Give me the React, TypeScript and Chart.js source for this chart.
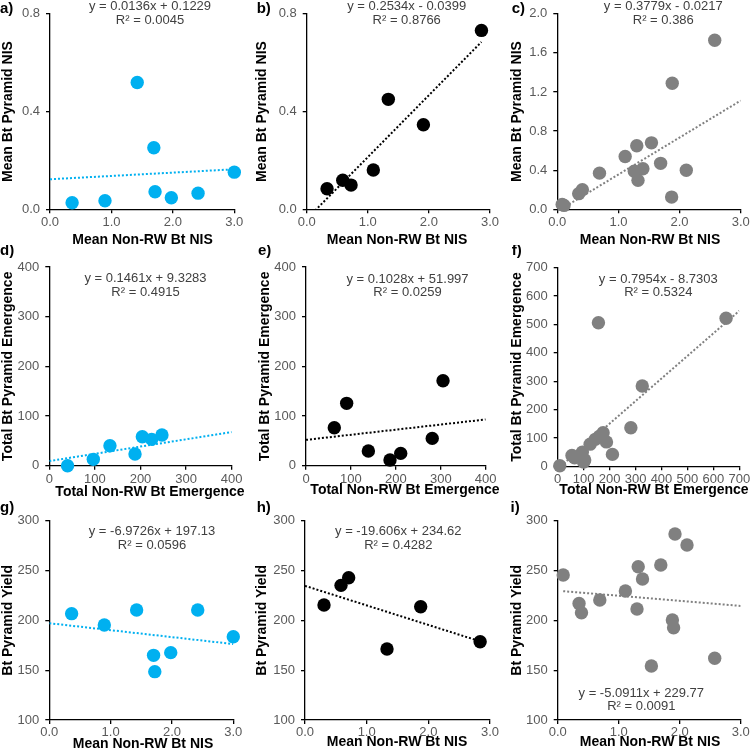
import React, { useEffect, useRef } from "react";
import { Chart, registerables } from "chart.js";

Chart.register(...registerables);

const FONT = "'Liberation Sans', Arial, Helvetica, sans-serif";

// ---------------- Data ----------------
// a) Mean Bt Pyramid NIS vs Mean Non-RW Bt NIS (blue)
const aX = [0.36, 0.895, 1.42, 1.69, 1.71, 1.975, 2.41, 3.0];
const aY = [0.027, 0.035, 0.519, 0.252, 0.072, 0.047, 0.066, 0.152];
// b) black
const bX = [0.333, 0.59, 0.726, 1.09, 1.336, 1.91, 2.86];
const bY = [0.084, 0.119, 0.099, 0.161, 0.45, 0.346, 0.732];
// c) gray
const cX = [0.08, 0.11, 0.35, 0.41, 0.69, 1.11, 1.3, 1.54, 1.26, 1.4, 1.32, 1.69, 1.87, 2.11, 1.88, 2.575];
const cY = [0.05, 0.04, 0.16, 0.2, 0.37, 0.54, 0.65, 0.68, 0.39, 0.415, 0.296, 0.47, 0.125, 0.4, 1.29, 1.73];
// d) Total Bt Pyramid Emergence vs Total Non-RW Bt Emergence (blue)
const dX = [40, 96.5, 133, 188, 204, 224.5, 247];
const dY = [0, 12.8, 40.3, 23.5, 58.4, 53, 61.7];
// e) black
const eX = [63, 90.5, 138.8, 187, 210.8, 281, 305];
const eY = [76.5, 125.5, 29.5, 11.4, 24.8, 55, 171];
// f) gray
const fX = [8, 55, 65, 95, 100, 104, 125, 145, 160, 175, 188, 211, 282, 326, 157, 649];
const fY = [2, 38, 30, 50, 15, 22, 78, 95, 105, 118, 86, 42, 136, 283, 506, 522];
// g) Bt Pyramid Yield vs Mean Non-RW Bt NIS (blue)
const gX = [0.364, 0.897, 1.424, 1.7, 1.72, 1.98, 2.42, 3.0];
const gY = [206.7, 195.3, 210.4, 164.9, 148.5, 167.6, 210.4, 183.6];
// h) black
const hX = [0.308, 0.584, 0.708, 1.33, 1.876, 2.84];
const hY = [215.4, 235.1, 242.8, 171.2, 213.7, 178.6];
// i) gray
const iX = [0.09, 0.35, 0.39, 0.69, 1.11, 1.32, 1.39, 1.3, 1.69, 1.923, 2.12, 1.88, 1.9, 1.536, 2.574];
const iY = [245.5, 217, 207.7, 220.4, 229.5, 253.8, 241.5, 211.4, 255.5, 286.6, 275.6, 200.3, 192.6, 154.2, 161.9];

// Trendlines (slope, intercept) and drawn x-range
const trendSlope = [0.0136, 0.2534, 0.3779, 0.1461, 0.1028, 0.7954, -6.9726, -19.606, -5.0911];
const trendIntercept = [0.1229, -0.0399, -0.0217, 9.3283, 51.997, -8.7303, 197.13, 234.62, 229.77];
const trendFrom = [0, 0, 0.08, 0, 0, 0, 0, 0, 0.09];
const trendTo = [3, 2.86, 3, 400, 400, 700, 3, 2.84, 3];

// Equation labels
const eqLine1 = [
  "y = 0.0136x + 0.1229",
  "y = 0.2534x - 0.0399",
  "y = 0.3779x - 0.0217",
  "y = 0.1461x + 9.3283",
  "y = 0.1028x + 51.997",
  "y = 0.7954x - 8.7303",
  "y = -6.9726x + 197.13",
  "y = -19.606x + 234.62",
  "y = -5.0911x + 229.77",
];
const eqLine2 = ["R² = 0.0045", "R² = 0.8766", "R² = 0.386", "R² = 0.4915", "R² = 0.0259", "R² = 0.5324", "R² = 0.0596", "R² = 0.4282", "R² = 0.0091"];
const panelLabels = ["a)", "b)", "c)", "d)", "e)", "f)", "g)", "h)", "i)"];

// Axis titles
const xTitleNIS = "Mean Non-RW Bt NIS";
const xTitleEm = "Total Non-RW Bt Emergence";
const yTitleNIS = "Mean Bt Pyramid NIS";
const yTitleEm = "Total Bt Pyramid Emergence";
const yTitleYield = "Bt Pyramid Yield";

const BLUE = "#00B0F0";
const BLACK = "#000000";
const GRAY = "#808080";

type Axis = { min: number; max: number; step: number; dec: number };
type Layout = {
  cx: number; cy: number; cw: number; ch: number;
  L: number; T: number; R: number; B: number;
  yTitleX: number; xTitleCX: number; xTitleY: number;
  labelX: number; labelY: number;
  eqX: number; eqY1: number; eqY2: number;
  xTickPad: number;
};
type PanelCfg = {
  idx: number; xs: number[]; ys: number[]; color: string;
  xAxis: Axis; yAxis: Axis; xTitle: string; yTitle: string; lay: Layout;
};

const NISx: Axis = { min: 0, max: 3, step: 1, dec: 1 };

const PANELS: PanelCfg[] = [
  { idx: 0, xs: aX, ys: aY, color: BLUE, xAxis: NISx, yAxis: { min: 0, max: 0.8, step: 0.4, dec: 1 }, xTitle: xTitleNIS, yTitle: yTitleNIS,
    lay: { cx: 0, cy: 0, cw: 250, ch: 252, L: 50, T: 12.7, R: 234.3, B: 209.3, yTitleX: 8.5, xTitleCX: 142.5, xTitleY: 240.5, labelX: 0, labelY: 9, eqX: 150, eqY1: 6.5, eqY2: 20.7, xTickPad: 1 } },
  { idx: 1, xs: bX, ys: bY, color: BLACK, xAxis: NISx, yAxis: { min: 0, max: 0.8, step: 0.4, dec: 1 }, xTitle: xTitleNIS, yTitle: yTitleNIS,
    lay: { cx: 250, cy: 0, cw: 255, ch: 252, L: 306.7, T: 12.7, R: 490, B: 209.3, yTitleX: 261.7, xTitleCX: 397, xTitleY: 240.5, labelX: 256.7, labelY: 9, eqX: 406.7, eqY1: 6.5, eqY2: 20.7, xTickPad: 1 } },
  { idx: 2, xs: cX, ys: cY, color: GRAY, xAxis: NISx, yAxis: { min: 0, max: 2, step: 0.4, dec: 1 }, xTitle: xTitleNIS, yTitle: yTitleNIS,
    lay: { cx: 500, cy: 0, cw: 260, ch: 252, L: 557.3, T: 12.7, R: 740.7, B: 209.3, yTitleX: 516.7, xTitleCX: 650, xTitleY: 240.5, labelX: 511.7, labelY: 9, eqX: 663.3, eqY1: 6.5, eqY2: 20.7, xTickPad: 1 } },
  { idx: 3, xs: dX, ys: dY, color: BLUE, xAxis: { min: 0, max: 400, step: 100, dec: 0 }, yAxis: { min: 0, max: 400, step: 100, dec: 0 }, xTitle: xTitleEm, yTitle: yTitleEm,
    lay: { cx: 0, cy: 245, cw: 250, ch: 262, L: 49.3, T: 267, R: 231.7, B: 465.7, yTitleX: 8.3, xTitleCX: 150, xTitleY: 492, labelX: 0, labelY: 251, eqX: 145.5, eqY1: 278.3, eqY2: 292.7, xTickPad: 1.5 } },
  { idx: 4, xs: eX, ys: eY, color: BLACK, xAxis: { min: 0, max: 400, step: 100, dec: 0 }, yAxis: { min: 0, max: 400, step: 100, dec: 0 }, xTitle: xTitleEm, yTitle: yTitleEm,
    lay: { cx: 250, cy: 245, cw: 255, ch: 262, L: 306, T: 267, R: 485.7, B: 465.7, yTitleX: 265, xTitleCX: 405, xTitleY: 490, labelX: 258, labelY: 251, eqX: 407.5, eqY1: 279, eqY2: 292.7, xTickPad: 1.5 } },
  { idx: 5, xs: fX, ys: fY, color: GRAY, xAxis: { min: 0, max: 700, step: 100, dec: 0 }, yAxis: { min: 0, max: 700, step: 100, dec: 0 }, xTitle: xTitleEm, yTitle: yTitleEm,
    lay: { cx: 500, cy: 245, cw: 260, ch: 262, L: 557.7, T: 267.7, R: 739.3, B: 466.3, yTitleX: 516.7, xTitleCX: 654, xTitleY: 490, labelX: 511.7, labelY: 251, eqX: 658.3, eqY1: 279, eqY2: 292.7, xTickPad: 1.5 } },
  { idx: 6, xs: gX, ys: gY, color: BLUE, xAxis: NISx, yAxis: { min: 100, max: 300, step: 50, dec: 0 }, xTitle: xTitleNIS, yTitle: yTitleYield,
    lay: { cx: 0, cy: 500, cw: 250, ch: 258, L: 49.3, T: 520.7, R: 233.3, B: 720, yTitleX: 8.3, xTitleCX: 143, xTitleY: 744, labelX: 0, labelY: 508, eqX: 152, eqY1: 531.7, eqY2: 545, xTickPad: 1 } },
  { idx: 7, xs: hX, ys: hY, color: BLACK, xAxis: NISx, yAxis: { min: 100, max: 300, step: 50, dec: 0 }, xTitle: xTitleNIS, yTitle: yTitleYield,
    lay: { cx: 250, cy: 500, cw: 255, ch: 258, L: 305, T: 520.7, R: 490, B: 720, yTitleX: 261.7, xTitleCX: 397, xTitleY: 742, labelX: 256.7, labelY: 508, eqX: 398.3, eqY1: 531.7, eqY2: 545, xTickPad: 1 } },
  { idx: 8, xs: iX, ys: iY, color: GRAY, xAxis: NISx, yAxis: { min: 100, max: 300, step: 50, dec: 0 }, xTitle: xTitleNIS, yTitle: yTitleYield,
    lay: { cx: 500, cy: 500, cw: 260, ch: 258, L: 557.7, T: 520.7, R: 740.7, B: 720, yTitleX: 516.7, xTitleCX: 650, xTitleY: 742, labelX: 510.5, labelY: 508, eqX: 641.3, eqY1: 693.3, eqY2: 706.7, xTickPad: 1 } },
];

function Panel({ p }: { p: PanelCfg }) {
  const ref = useRef<HTMLCanvasElement | null>(null);
  useEffect(() => {
    const canvas = ref.current;
    if (!canvas) return;
    const lay = p.lay;
    const lh = 14 * 1.2;
    const padLeft = lay.yTitleX - lay.cx - lh / 2;
    const yW = lay.L - lay.cx - padLeft;
    const padTop = lay.T - lay.cy;
    const padRight = lay.cx + lay.cw - lay.R;
    const xH = 24;
    const padBottom = lay.ch - (lay.B - lay.cy) - xH;
    const i = p.idx;
    const tf = trendFrom[i];
    const tt = trendTo[i];

    const overlay = {
      id: "overlay" + i,
      afterDraw(chart: any) {
        const ctx = chart.ctx as CanvasRenderingContext2D;
        ctx.save();
        ctx.textBaseline = "middle";
        // panel label
        ctx.font = `bold 15px ${FONT}`;
        ctx.fillStyle = "#000";
        ctx.textAlign = "left";
        ctx.fillText(panelLabels[i], lay.labelX - lay.cx, lay.labelY - lay.cy);
        // x axis title
        ctx.font = `bold 14px ${FONT}`;
        ctx.textAlign = "center";
        ctx.fillText(p.xTitle, lay.xTitleCX - lay.cx, lay.xTitleY - lay.cy);
        // equation
        ctx.font = `13px ${FONT}`;
        ctx.fillStyle = "#404040";
        ctx.fillText(eqLine1[i], lay.eqX - lay.cx, lay.eqY1 - lay.cy);
        ctx.fillText(eqLine2[i], lay.eqX - lay.cx, lay.eqY2 - lay.cy);
        ctx.restore();
      },
    };

    const tickFont = { family: FONT, size: 13 };
    const gridOpts = { display: true, drawOnChartArea: false, drawTicks: true, tickLength: 4, color: "#000", lineWidth: 1.3 };
    const borderOpts = { display: true, color: "#000", width: 1.3 };

    const chart = new Chart(canvas, {
      type: "scatter",
      data: {
        datasets: [
          {
            data: p.xs.map((x, k) => ({ x, y: p.ys[k] })),
            backgroundColor: p.color,
            borderColor: p.color,
            borderWidth: 0,
            pointRadius: 6.7,
            pointHoverRadius: 6.7,
            clip: false as any,
          },
          {
            data: [
              { x: tf, y: trendSlope[i] * tf + trendIntercept[i] },
              { x: tt, y: trendSlope[i] * tt + trendIntercept[i] },
            ],
            showLine: true,
            borderColor: p.color,
            backgroundColor: p.color,
            borderWidth: 2,
            borderDash: [2, 2],
            pointRadius: 0,
            pointHoverRadius: 0,
            fill: false,
            clip: 0 as any,
          },
        ],
      },
      options: {
        animation: false,
        responsive: false,
        devicePixelRatio: 1,
        events: [],
        layout: { padding: { left: padLeft, top: padTop, right: padRight, bottom: padBottom } },
        plugins: { legend: { display: false }, tooltip: { enabled: false }, title: { display: false } },
        scales: {
          x: {
            type: "linear",
            position: "bottom",
            min: p.xAxis.min,
            max: p.xAxis.max,
            ticks: {
              stepSize: p.xAxis.step,
              color: "#595959",
              font: tickFont,
              padding: lay.xTickPad,
              maxRotation: 0,
              minRotation: 0,
              autoSkip: false,
              callback: (v: any) => Number(v).toFixed(p.xAxis.dec),
            },
            grid: gridOpts,
            border: borderOpts,
            title: { display: false },
            afterFit: (s: any) => { s.height = xH; },
          },
          y: {
            type: "linear",
            position: "left",
            min: p.yAxis.min,
            max: p.yAxis.max,
            ticks: {
              stepSize: p.yAxis.step,
              color: "#595959",
              font: tickFont,
              padding: 6,
              autoSkip: false,
              callback: (v: any) => Number(v).toFixed(p.yAxis.dec),
            },
            grid: gridOpts,
            border: borderOpts,
            title: {
              display: true,
              text: p.yTitle,
              color: "#000",
              font: { family: FONT, size: 14, weight: "bold", lineHeight: 1.2 },
              padding: 0,
            },
            afterFit: (s: any) => { s.width = yW; },
          },
        },
      } as any,
      plugins: [overlay],
    });
    return () => chart.destroy();
  }, [p]);
  const lay = p.lay;
  return (
    <canvas
      ref={ref}
      width={lay.cw}
      height={lay.ch}
      style={{ position: "absolute", left: lay.cx, top: lay.cy, width: lay.cw, height: lay.ch }}
    />
  );
}

export default function App() {
  return (
    <div style={{ position: "fixed", left: 0, top: 0, width: 750, height: 753, overflow: "hidden", background: "#fff" }}>
      {PANELS.map((p) => (
        <Panel key={p.idx} p={p} />
      ))}
    </div>
  );
}
